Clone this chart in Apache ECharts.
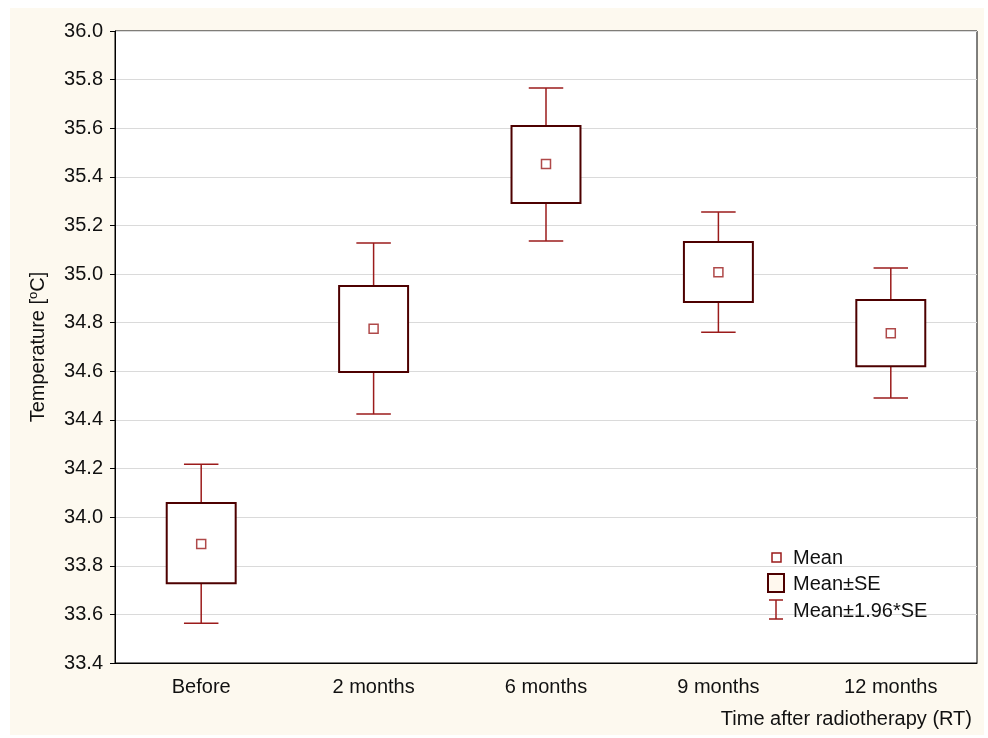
<!DOCTYPE html>
<html>
<head>
<meta charset="utf-8">
<script src="https://cdn.jsdelivr.net/npm/echarts@6/dist/echarts.min.js"></script>
<style>
  html, body { margin: 0; padding: 0; background: #ffffff; }
  #chart { width: 988px; height: 738px; }
</style>
</head>
<body>
<div id="chart"></div>
<script>
// categories and values
const categories = ['Before', '2 months', '6 months', '9 months', '12 months']
const means = [33.89, 34.775, 35.453, 35.008, 34.757]
const seLow = [33.728, 34.597, 35.292, 34.885, 34.621]
const seHigh = [34.058, 34.951, 35.609, 35.132, 34.893]
const ciLow = [33.564, 34.424, 35.136, 34.761, 34.490]
const ciHigh = [34.218, 35.128, 35.765, 35.255, 35.025]

const boxColor = '#4d0000'
const whiskerColor = '#9b1b1b'
const font = 'Arial, "Liberation Sans", sans-serif'
const fs = 20

const chart = echarts.init(document.getElementById('chart'))

// 均值 ± SE 方框
const renderBox = (params, api) => {
  const x = api.value(0)
  const lo = api.coord([x, api.value(1)])
  const hi = api.coord([x, api.value(2)])
  const w = api.size([1, 0])[0] * 0.4
  return {
    type: 'rect',
    shape: { x: lo[0] - w / 2, y: hi[1], width: w, height: lo[1] - hi[1] },
    style: { fill: '#ffffff', stroke: boxColor, lineWidth: 2 }
  }
}

// 1.96*SE 须线
const renderWhisker = (params, api) => {
  const x = api.value(0)
  const lo = api.coord([x, api.value(1)])
  const hi = api.coord([x, api.value(2)])
  const cap = api.size([1, 0])[0] * 0.2
  const style = { stroke: whiskerColor, lineWidth: 1.5 }
  return {
    type: 'group',
    children: [
      { type: 'line', shape: { x1: lo[0], y1: lo[1], x2: hi[0], y2: hi[1] }, style },
      { type: 'line', shape: { x1: lo[0] - cap / 2, y1: lo[1], x2: lo[0] + cap / 2, y2: lo[1] }, style },
      { type: 'line', shape: { x1: hi[0] - cap / 2, y1: hi[1], x2: hi[0] + cap / 2, y2: hi[1] }, style }
    ]
  }
}

const legendX = 776
const legendText = (y, text) => ({
  type: 'text', x: 793, y: y, z: 20,
  style: { text, font: fs + 'px ' + font, fill: '#111', verticalAlign: 'middle', align: 'left' }
})

const option = {
  animation: false,
  textStyle: { fontFamily: font },
  graphic: [
    { type: 'rect', left: 10, top: 8, shape: { width: 974, height: 727 }, style: { fill: '#fdf9ef' }, z: -10 },
    { type: 'rect', left: 115, top: 31, shape: { width: 862, height: 632 }, style: { fill: '#ffffff' }, z: -9 },
    // legend
    { type: 'rect', shape: { x: legendX - 4, y: 553, width: 9, height: 9 }, style: { fill: '#fff', stroke: whiskerColor, lineWidth: 1.5 }, z: 10 },
    legendText(558, 'Mean'),
    { type: 'rect', shape: { x: legendX - 8, y: 574, width: 16, height: 18 }, style: { fill: '#fff8ee', stroke: boxColor, lineWidth: 2 }, z: 10 },
    legendText(584, 'Mean±SE'),
    { type: 'polyline', shape: { points: [[legendX - 7, 600], [legendX + 7, 600]] }, style: { stroke: whiskerColor, lineWidth: 1.5 }, z: 10 },
    { type: 'polyline', shape: { points: [[legendX, 600], [legendX, 619]] }, style: { stroke: whiskerColor, lineWidth: 1.5 }, z: 10 },
    { type: 'polyline', shape: { points: [[legendX - 7, 619], [legendX + 7, 619]] }, style: { stroke: whiskerColor, lineWidth: 1.5 }, z: 10 },
    legendText(611, 'Mean±1.96*SE')
  ],
  grid: {
    left: 115, right: 11, top: 31, bottom: 75,
    show: true, borderColor: '#000', borderWidth: 1, backgroundColor: 'transparent'
  },
  xAxis: {
    type: 'category',
    data: categories,
    boundaryGap: true,
    name: 'Time after radiotherapy (RT)',
    nameLocation: 'end',
    nameGap: 0,
    nameTextStyle: {
      fontSize: fs, color: '#111', align: 'right', verticalAlign: 'top',
      padding: [46, 5, 0, 0]
    },
    axisLine: { lineStyle: { color: '#000', width: 1 } },
    axisTick: { alignWithLabel: true, length: 5, lineStyle: { color: '#000' } },
    axisLabel: { fontSize: fs, color: '#111', margin: 14 },
    splitLine: { show: false }
  },
  yAxis: {
    type: 'value',
    min: 33.4,
    max: 36.0,
    interval: 0.2,
    name: 'Temperature [{sup|o}C]',
    nameLocation: 'middle',
    nameGap: 66,
    nameRotate: 90,
    nameTextStyle: {
      fontSize: fs, color: '#111',
      rich: { sup: { fontSize: 13, verticalAlign: 'top', padding: [0, 0, 9, 0], color: '#111' } }
    },
    axisLine: { show: true, lineStyle: { color: '#000', width: 1 } },
    axisTick: { show: true, length: 5, lineStyle: { color: '#000' } },
    axisLabel: { fontSize: fs, color: '#111', margin: 12, formatter: v => v.toFixed(1) },
    splitLine: { lineStyle: { color: '#dadada', width: 1 } }
  },
  series: [
    {
      name: 'Mean±1.96*SE',
      type: 'custom',
      renderItem: renderWhisker,
      data: categories.map((c, i) => [i, ciLow[i], ciHigh[i]]),
      z: 2
    },
    {
      name: 'Mean±SE',
      type: 'custom',
      renderItem: renderBox,
      data: categories.map((c, i) => [i, seLow[i], seHigh[i]]),
      z: 3
    },
    {
      name: 'Mean',
      type: 'scatter',
      symbol: 'rect',
      symbolSize: 9,
      itemStyle: { color: '#fff', borderColor: whiskerColor, borderWidth: 1.5 },
      data: categories.map((c, i) => [i, means[i]]),
      z: 4
    }
  ]
}

chart.setOption(option)
</script>
</body>
</html>
